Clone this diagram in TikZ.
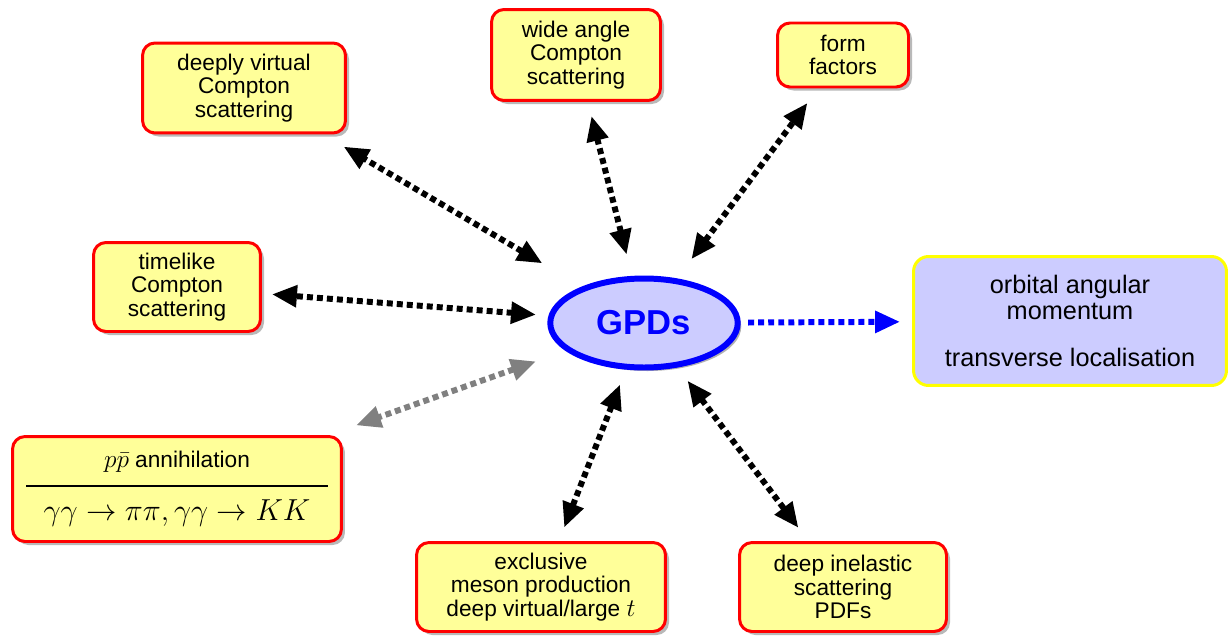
\documentclass[tikz,border=0pt]{standalone}
\usepackage{fontspec}
\setmainfont{Liberation Sans}
\usepackage{tikz}
\usetikzlibrary{shapes.geometric,arrows.meta,positioning,shadows}
\definecolor{boxfill}{RGB}{255,255,153}
\definecolor{boxline}{RGB}{255,0,0}
\definecolor{gpdfill}{RGB}{204,204,255}
\definecolor{gpdline}{RGB}{0,0,255}
\definecolor{orbline}{RGB}{255,255,0}
\definecolor{greyarrow}{RGB}{128,128,128}

\newcommand{\mbig}[1]{{\fontsize{14.4}{15}\selectfont$#1$}}

\tikzset{
    procbox/.style={draw=boxline, fill=boxfill, line width=1.7pt, rounded corners=0.25cm,
        align=center, font=\fontsize{12.9}{13.2}\selectfont, inner sep=2pt,
        drop shadow={shadow xshift=2pt, shadow yshift=-2pt, fill=black!55}},
    biarrow/.style={line width=3.4pt, dash pattern=on 3.4pt off 2.3pt,
        {Triangle[length=0.5cm,width=0.42cm]}-{Triangle[length=0.5cm,width=0.42cm]}},
}

\begin{document}
\begin{tikzpicture}[x=0.02cm, y=-0.02cm]
\useasboundingbox (0,0) rectangle (1229,635);

% central node
\node[ellipse, draw=gpdline, fill=gpdfill, line width=3.4pt, minimum width=3.75cm, minimum height=1.78cm,
    font=\fontsize{19.7}{21}\selectfont\bfseries, text=gpdline,
    drop shadow={shadow xshift=2pt, shadow yshift=-2pt, fill=black!60}] (gpd) at (644,323) {GPDs};

% processes
\node[procbox, minimum width=4.06cm, minimum height=1.8cm] (dvcs) at (244,88) {deeply virtual\\Compton\\scattering};
\node[procbox, minimum width=3.38cm, minimum height=1.82cm] (wacs) at (576,55) {wide angle\\Compton\\scattering};
\node[procbox, minimum width=2.62cm, minimum height=1.28cm] (ff) at (843,55) {form\\factors};
\node[procbox, minimum width=3.34cm, minimum height=1.78cm] (tcs) at (177,287) {timelike\\Compton\\scattering};
\node[procbox, minimum width=6.58cm, minimum height=2.1cm] (ppbar) at (177,489)
    {\mbig{p\bar p} annihilation\\[-2pt]\rule{6.04cm}{1.1pt}\\[6pt]{\fontsize{16}{18}\selectfont$\gamma\gamma\to\pi\pi,\gamma\gamma\to KK$}};
\node[procbox, minimum width=4.98cm, minimum height=1.78cm] (mes) at (541,587) {exclusive\\meson production\\deep virtual/large \mbig{t}};
\node[procbox, minimum width=4.14cm, minimum height=1.78cm] (dis) at (843,587) {deep inelastic\\scattering\\PDFs};

% what we learn
\node[draw=orbline, fill=gpdfill, line width=1.7pt, rounded corners=0.3cm, align=center,
    font=\fontsize{14.4}{14.8}\selectfont, minimum width=6.26cm, minimum height=2.58cm]
    (orb) at (1070,321) {orbital angular\\momentum\\[12pt]transverse localisation};

% links
\draw[biarrow, shorten <=0.92cm, shorten >=0.48cm] (gpd) -- (dvcs);
\draw[biarrow, shorten <=0.44cm, shorten >=0.29cm] (gpd) -- (wacs);
\draw[biarrow, shorten <=0.48cm, shorten >=0.36cm] (gpd) -- (ff);
\draw[biarrow, shorten <=0.25cm, shorten >=0.2cm] (gpd) -- (tcs);
\draw[biarrow, greyarrow, shorten <=0.63cm, shorten >=0.58cm] (gpd) -- (ppbar);
\draw[biarrow, shorten <=0.32cm, shorten >=0.29cm] (gpd) -- (mes);
\draw[biarrow, shorten <=0.33cm, shorten >=0.33cm] (gpd) -- (dis);
\draw[line width=3.4pt, dash pattern=on 3.4pt off 2.3pt, gpdline, -{Triangle[length=0.5cm,width=0.42cm]},
    shorten <=0.15cm, shorten >=0.24cm] (gpd) -- (orb);
\end{tikzpicture}
\end{document}
